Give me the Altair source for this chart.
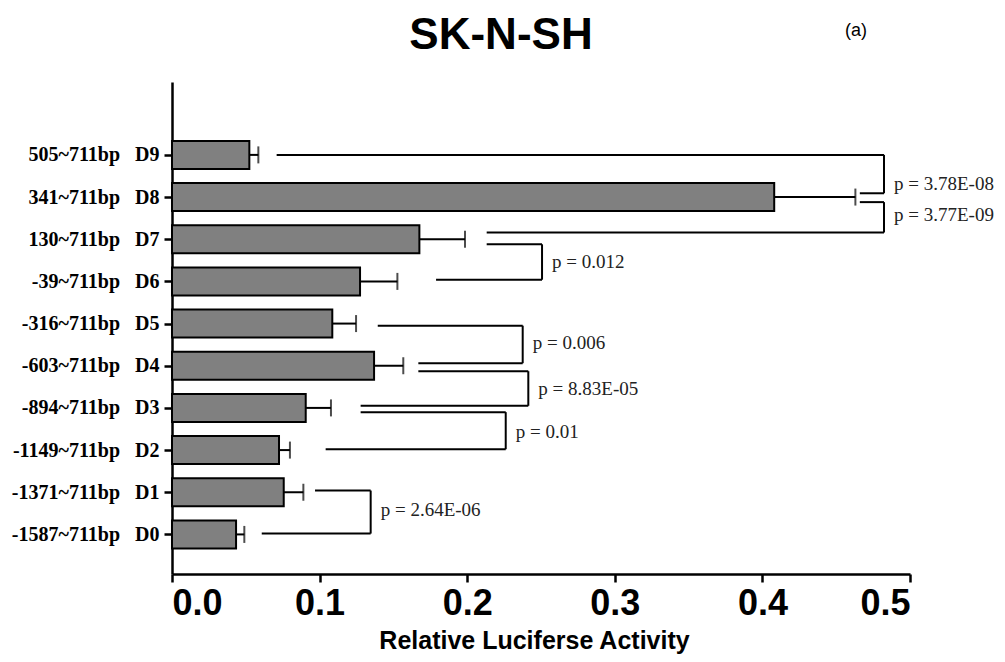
import json
import altair as alt
import pandas as pd

# ---- data (D0 .. D9, bottom to top) ----
ranges = ["-1587~711bp", "-1371~711bp", "-1149~711bp", "-894~711bp", "-603~711bp",
          "-316~711bp", "-39~711bp", "130~711bp", "341~711bp", "505~711bp"]
names = ["D0", "D1", "D2", "D3", "D4", "D5", "D6", "D7", "D8", "D9"]
values = [0.0434, 0.0757, 0.0725, 0.0906, 0.1369, 0.1086, 0.1274, 0.1676, 0.408, 0.0524]
errors = [0.0056, 0.0133, 0.0074, 0.0171, 0.0198, 0.0161, 0.0253, 0.0309, 0.055, 0.0061]

# ---- significance brackets ----
p_labels = ["p = 3.78E-08", "p = 3.77E-09", "p = 0.012", "p = 0.006",
            "p = 8.83E-05", "p = 0.01", "p = 2.64E-06"]
bracket_top_y = [9.0, 7.88, 6.88, 4.95, 3.87, 2.90, 1.04]
bracket_bot_y = [8.09, 7.16, 6.04, 4.06, 3.05, 2.02, 0.02]
bracket_top_x0 = [0.0709, 0.466, 0.2132, 0.1394, 0.1669, 0.1278, 0.0969]
bracket_bot_x0 = [0.466, 0.2132, 0.1789, 0.1669, 0.1278, 0.1041, 0.0608]
bracket_x = [0.4824, 0.4824, 0.2507, 0.2376, 0.2414, 0.2261, 0.1346]
label_y = [8.30, 7.58, 6.47, 4.54, 3.44, 2.43, 0.59]

NB = "\u00a0"
tick_labels = [r + NB * 3 + n for r, n in zip(ranges, names)]

bars = pd.DataFrame({
    "pos": list(range(10)),
    "value": values,
    "err_end": [v + e for v, e in zip(values, errors)],
    "label": tick_labels,
})

segs = []
for i in range(len(p_labels)):
    segs.append({"x": bracket_top_x0[i], "x2": bracket_x[i], "y": bracket_top_y[i], "y2": bracket_top_y[i]})
    segs.append({"x": bracket_bot_x0[i], "x2": bracket_x[i], "y": bracket_bot_y[i], "y2": bracket_bot_y[i]})
    segs.append({"x": bracket_x[i], "x2": bracket_x[i], "y": bracket_top_y[i], "y2": bracket_bot_y[i]})
segs = pd.DataFrame(segs)
ptext = pd.DataFrame({"x": bracket_x, "y": label_y, "text": p_labels})

label_expr = "[" + ",".join(json.dumps(l) for l in tick_labels) + "][datum.value]"

xscale = alt.Scale(domain=[0, 0.5], nice=False)
yscale = alt.Scale(domain=[-0.82, 10.61], nice=False, zero=False)

xaxis = alt.Axis(values=[0, 0.1, 0.2, 0.3, 0.4, 0.5], format=".1f", grid=False,
                 title="Relative Luciferse Activity",
                 labelFont="Liberation Sans Narrow, Liberation Sans", labelFontSize=36,
                 labelFontWeight="bold", labelColor="black", labelPadding=4,
                 titleFont="Liberation Sans Narrow, Liberation Sans", titleFontSize=25,
                 titleFontWeight="bold", titleColor="black", titlePadding=7,
                 titleX=362,
                 domainColor="black", domainWidth=2.5, tickColor="black",
                 tickWidth=2.5, tickSize=8)
yaxis = alt.Axis(values=list(range(10)), labelExpr=label_expr, grid=False, title=None,
                 labelFont="Liberation Serif", labelFontSize=20, labelFontWeight="bold",
                 labelColor="black", labelPadding=5, domainColor="black",
                 domainWidth=2.5, tickColor="black", tickWidth=2.5, tickSize=8)

base = alt.Chart(bars)

bar = base.mark_bar(orient="horizontal", size=28, fill="#808080", stroke="black",
                    strokeWidth=2).encode(
    x=alt.X("value:Q", scale=xscale, axis=xaxis),
    y=alt.Y("pos:Q", scale=yscale, axis=yaxis),
)
err_line = base.mark_rule(color="black", strokeWidth=2).encode(
    x="value:Q", x2="err_end:Q", y="pos:Q")
err_cap = base.mark_tick(orient="vertical", size=17, thickness=2, color="black").encode(
    x="err_end:Q", y="pos:Q")

brk = alt.Chart(segs).mark_rule(color="black", strokeWidth=2).encode(
    x="x:Q", x2="x2:Q", y="y:Q", y2="y2:Q")
brk_text = alt.Chart(ptext).mark_text(align="left", baseline="middle", dx=10,
                                      font="Liberation Serif", fontSize=19,
                                      color="#222222").encode(
    x="x:Q", y="y:Q", text="text:N")

title_df = pd.DataFrame({"t": ["SK-N-SH"]})
title = alt.Chart(title_df).mark_text(font="Liberation Sans", fontSize=44, fontWeight="bold",
                                      baseline="alphabetic", align="center",
                                      color="black").encode(
    x=alt.value(329), y=alt.value(-33), text="t:N")
tag_df = pd.DataFrame({"t": ["(a)"]})
tag = alt.Chart(tag_df).mark_text(font="Liberation Sans", fontSize=18,
                                  baseline="alphabetic", align="center",
                                  color="black").encode(
    x=alt.value(684), y=alt.value(-46), text="t:N")

chart = alt.layer(bar, err_line, err_cap, brk, brk_text, title, tag).properties(
    width=738, height=492,
    autosize=alt.AutoSizeParams(type="none"),
    padding={"left": 164, "top": 74, "right": 85, "bottom": 80},
).configure(background="white").configure_view(stroke=None, strokeWidth=0)

chart.save("out.html", embed_options={"renderer": "svg", "actions": False})
